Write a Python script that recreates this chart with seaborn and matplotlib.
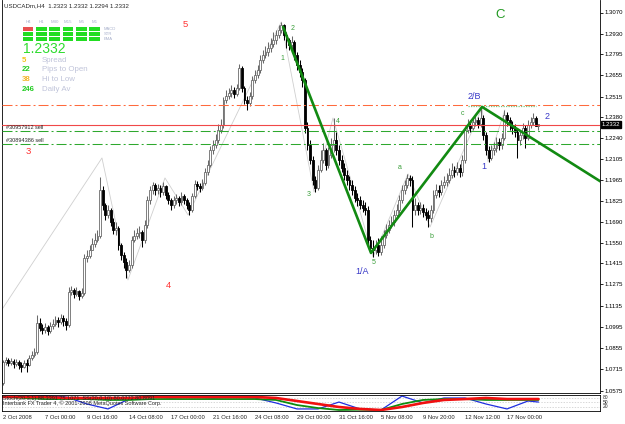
import numpy as np
import matplotlib
matplotlib.use("Agg")
import matplotlib.pyplot as plt
import seaborn as sns
from matplotlib.patches import Rectangle

# ---- price data (H4 bars, USDCADm) ----
first_open = 1.0625
closes = [
    1.0764, 1.0777, 1.0757, 1.0770, 1.0751, 1.0764, 1.0744, 1.0731, 1.0757, 1.0744,
    1.0790, 1.0810, 1.0830, 1.1021, 1.0988, 1.0975, 1.0995, 1.0968, 1.1001, 1.1015,
    1.1041, 1.1028, 1.1054, 1.1034, 1.1008, 1.1226, 1.1239, 1.1213, 1.1232, 1.1199,
    1.1219, 1.1450, 1.1463, 1.1503, 1.1543, 1.1569, 1.1595, 1.1899, 1.1800, 1.1734,
    1.1767, 1.1688, 1.1635, 1.1648, 1.1536, 1.1470, 1.1424, 1.1371, 1.1404, 1.1569,
    1.1595, 1.1615, 1.1622, 1.1569, 1.1668, 1.1833, 1.1899, 1.1932, 1.1899, 1.1912,
    1.1886, 1.1925, 1.1866, 1.1833, 1.1800, 1.1833, 1.1846, 1.1820, 1.1859, 1.1833,
    1.1800, 1.1767, 1.1859, 1.1939, 1.1925, 1.1912, 1.1945, 1.2018, 1.2064, 1.2163,
    1.2196, 1.2229, 1.2295, 1.2328, 1.2493, 1.2519, 1.2539, 1.2559, 1.2533, 1.2572,
    1.2704, 1.2572, 1.2493, 1.2473, 1.2519, 1.2625, 1.2658, 1.2691, 1.2757, 1.2790,
    1.2810, 1.2836, 1.2863, 1.2889, 1.2922, 1.2955, 1.2988, 1.2922, 1.2889, 1.2856,
    1.2876, 1.2790, 1.2724, 1.2678, 1.2625, 1.2308, 1.2196, 1.2097, 1.1965, 1.1912,
    1.2031, 1.2097, 1.2163, 1.2064, 1.2130, 1.2196, 1.2229, 1.2163, 1.2097, 1.2044,
    1.1998, 1.1965, 1.1932, 1.1899, 1.1846, 1.1833, 1.1800, 1.1780, 1.1767, 1.1569,
    1.1516, 1.1503, 1.1536, 1.1490, 1.1536, 1.1602, 1.1635, 1.1668, 1.1688, 1.1734,
    1.1767, 1.1833, 1.1899, 1.1932, 1.1978, 1.1965, 1.1767, 1.1800, 1.1767, 1.1780,
    1.1754, 1.1734, 1.1714, 1.1767, 1.1866, 1.1899, 1.1886, 1.1932, 1.1952, 1.1965,
    1.1998, 1.2031, 1.2018, 1.2044, 1.2018, 1.2097, 1.2295, 1.2328, 1.2308, 1.2348,
    1.2361, 1.2335, 1.2374, 1.2262, 1.2163, 1.2110, 1.2163, 1.2176, 1.2216, 1.2196,
    1.2242, 1.2394, 1.2361, 1.2328, 1.2308, 1.2282, 1.2229, 1.2262, 1.2308, 1.2242,
    1.2328, 1.2348, 1.2374, 1.2323, 1.2332,
]
highs = [
    1.0777, 1.0797, 1.0790, 1.0790, 1.0784, 1.0784, 1.0777, 1.0764, 1.0777, 1.0784,
    1.0810, 1.0836, 1.0856, 1.1074, 1.1054, 1.1015, 1.1021, 1.1008, 1.1028, 1.1048,
    1.1067, 1.1061, 1.1081, 1.1074, 1.1054, 1.1259, 1.1265, 1.1252, 1.1259, 1.1239,
    1.1252, 1.1477, 1.1503, 1.1536, 1.1582, 1.1615, 1.1635, 1.1985, 1.1925, 1.1813,
    1.1800, 1.1780, 1.1714, 1.1688, 1.1661, 1.1549, 1.1490, 1.1450, 1.1437, 1.1595,
    1.1635, 1.1648, 1.1661, 1.1635, 1.1701, 1.1859, 1.1925, 1.1952, 1.1945, 1.1939,
    1.1932, 1.1952, 1.1932, 1.1886, 1.1846, 1.1859, 1.1873, 1.1859, 1.1886, 1.1873,
    1.1846, 1.1820, 1.1879, 1.1965, 1.1958, 1.1945, 1.1972, 1.2044, 1.2097, 1.2189,
    1.2229, 1.2269, 1.2335, 1.2368, 1.2513, 1.2559, 1.2572, 1.2592, 1.2579, 1.2599,
    1.2731, 1.2717, 1.2586, 1.2519, 1.2546, 1.2651, 1.2691, 1.2724, 1.2790, 1.2823,
    1.2849, 1.2876, 1.2902, 1.2942, 1.2955, 1.2988, 1.3008, 1.2995, 1.2942, 1.2902,
    1.2915, 1.2889, 1.2810, 1.2757, 1.2704, 1.2638, 1.2348, 1.2229, 1.2123, 1.1991,
    1.2064, 1.2163, 1.2209, 1.2176, 1.2183, 1.2242, 1.2374, 1.2282, 1.2196, 1.2130,
    1.2077, 1.2031, 1.1991, 1.1965, 1.1925, 1.1879, 1.1859, 1.1833, 1.1820, 1.1793,
    1.1595, 1.1569, 1.1569, 1.1582, 1.1595, 1.1635, 1.1675, 1.1701, 1.1727, 1.1767,
    1.1807, 1.1866, 1.1932, 1.1965, 1.2005, 1.1998, 1.1991, 1.1846, 1.1820, 1.1820,
    1.1807, 1.1780, 1.1767, 1.1800, 1.1899, 1.1939, 1.1932, 1.1965, 1.1991, 1.2011,
    1.2044, 1.2077, 1.2057, 1.2084, 1.2071, 1.2130, 1.2321, 1.2368, 1.2361, 1.2381,
    1.2401, 1.2381, 1.2440, 1.2394, 1.2282, 1.2189, 1.2196, 1.2216, 1.2249, 1.2242,
    1.2275, 1.2427, 1.2414, 1.2381, 1.2355, 1.2335, 1.2308, 1.2295, 1.2341, 1.2328,
    1.2361, 1.2381, 1.2407, 1.2388, 1.2332,
]
lows = [
    1.0612, 1.0744, 1.0737, 1.0744, 1.0724, 1.0737, 1.0718, 1.0698, 1.0724, 1.0698,
    1.0737, 1.0777, 1.0797, 1.0817, 1.0968, 1.0949, 1.0955, 1.0942, 1.0955, 1.0982,
    1.1001, 1.0995, 1.1015, 1.1001, 1.0975, 1.0995, 1.1206, 1.1186, 1.1199, 1.1173,
    1.1186, 1.1206, 1.1424, 1.1450, 1.1503, 1.1523, 1.1556, 1.1582, 1.1767, 1.1701,
    1.1714, 1.1661, 1.1609, 1.1602, 1.1503, 1.1437, 1.1384, 1.1318, 1.1358, 1.1384,
    1.1556, 1.1576, 1.1582, 1.1523, 1.1549, 1.1648, 1.1807, 1.1873, 1.1866, 1.1873,
    1.1853, 1.1866, 1.1840, 1.1807, 1.1767, 1.1780, 1.1807, 1.1793, 1.1800, 1.1807,
    1.1774, 1.1734, 1.1754, 1.1846, 1.1899, 1.1886, 1.1899, 1.1932, 1.1998, 1.2051,
    1.2137, 1.2176, 1.2209, 1.2275, 1.2308, 1.2473, 1.2500, 1.2513, 1.2506, 1.2519,
    1.2559, 1.2546, 1.2467, 1.2427, 1.2453, 1.2500, 1.2605, 1.2638, 1.2671, 1.2737,
    1.2770, 1.2783, 1.2810, 1.2843, 1.2863, 1.2902, 1.2935, 1.2889, 1.2836, 1.2823,
    1.2823, 1.2757, 1.2691, 1.2645, 1.2579, 1.2275, 1.2163, 1.2071, 1.1932, 1.1886,
    1.1899, 1.2018, 1.2077, 1.2031, 1.2044, 1.2110, 1.2150, 1.2130, 1.2064, 1.2018,
    1.1965, 1.1932, 1.1899, 1.1866, 1.1820, 1.1793, 1.1774, 1.1754, 1.1734, 1.1543,
    1.1490, 1.1457, 1.1477, 1.1463, 1.1470, 1.1516, 1.1582, 1.1615, 1.1648, 1.1661,
    1.1714, 1.1747, 1.1813, 1.1873, 1.1912, 1.1925, 1.1655, 1.1734, 1.1734, 1.1741,
    1.1721, 1.1701, 1.1655, 1.1688, 1.1747, 1.1846, 1.1853, 1.1866, 1.1912, 1.1925,
    1.1945, 1.1978, 1.1985, 1.1998, 1.1985, 1.1991, 1.2077, 1.2275, 1.2282, 1.2295,
    1.2321, 1.2308, 1.2315, 1.2229, 1.2130, 1.2084, 1.2097, 1.2130, 1.2150, 1.2163,
    1.2170, 1.2229, 1.2321, 1.2295, 1.2269, 1.2249, 1.2110, 1.2196, 1.2236, 1.2176,
    1.2229, 1.2308, 1.2328, 1.2321, 1.2294,
]

price_ticks = [1.3070, 1.2930, 1.2795, 1.2655, 1.2515, 1.2380, 1.2240, 1.2105, 1.1965, 1.1825,
               1.1690, 1.1550, 1.1415, 1.1275, 1.1135, 1.0995, 1.0855, 1.0715, 1.0575]
date_bars = [0, 16, 32, 48, 64, 80, 96, 112, 128, 144, 160, 176, 192]
date_labels = ["2 Oct 2008", "7 Oct 00:00", "9 Oct 16:00", "14 Oct 08:00", "17 Oct 00:00",
               "21 Oct 16:00", "24 Oct 08:00", "29 Oct 00:00", "31 Oct 16:00", "5 Nov 08:00",
               "9 Nov 20:00", "12 Nov 12:00", "17 Nov 00:00"]

# order / level lines
level_orange = 1.2460
level_red = 1.2330
level_green1 = 1.2288
level_green2 = 1.2203

# elliott wave trend line and zigzag
wave_bars = [106.7, 140.2, 182.5, 231]
wave_prices = [1.2975, 1.1483, 1.2447, 1.1918]
zz_bars = [-1, 37.7, 47.6, 61.7, 70.5, 106, 118.5, 125.7, 141, 154.3, 162.7, 182.5, 184.8, 191.2]
zz_prices = [1.1094, 1.2110, 1.1305, 1.1978, 1.1734, 1.3008, 1.1886, 1.2374, 1.1457,
             1.2005, 1.1655, 1.2440, 1.2084, 1.2427]
dot_bars = [177, 203]
dot_prices = [1.2453, 1.2453]

green_labels = ["2", "1", "3", "4", "a", "b", "c", "5"]
green_lab_bars = [110.5, 106.3, 116.6, 127.6, 151.2, 163.4, 175.2, 141.3]
green_lab_prices = [1.2962, 1.2764, 1.1866, 1.2348, 1.2044, 1.1589, 1.2401, 1.1417]
blue_labels = ["1/A", "2/B", "1", "2"]
blue_lab_bars = [136.8, 179.4, 183.2, 207.2]
blue_lab_prices = [1.1358, 1.2513, 1.2051, 1.2381]
red_labels = ["5", "3", "4"]
red_lab_bars = [69.3, 9.5, 63.2]
red_lab_prices = [1.2988, 1.2150, 1.1265]

# stochastic sub-window
stoch_bars = [0, 8, 16, 24, 32, 40, 48, 56, 64, 72, 80, 88, 96, 104, 112, 120, 128, 136,
              144, 152, 160, 168, 176, 184, 192, 200, 204]
stoch_blue = [87, 87, 93, 87, 40, 7, 73, 87, 80, 87, 80, 87, 80, 47, 7, 7, 53, 7,
              0, 93, 47, 80, 80, 40, 7, 60, 53]
stoch_green = [87, 80, 73, 73, 73, 67, 67, 73, 73, 73, 73, 73, 73, 67, 33, 13, 0, 2,
               0, 40, 67, 73, 73, 67, 67, 67, 67]
stoch_red = [87, 87, 87, 80, 80, 80, 80, 87, 87, 87, 87, 87, 87, 80, 60, 40, 20, 7,
             0, 20, 47, 67, 73, 80, 73, 73, 73]
stoch_levels = [80, 50, 20]

# dashboard
tf_names = ["H4", "H1", "M30", "M15", "M5", "M1"]
sig_rows = ["MACD", "STR", "EMA"]
info_values = ["5", "22", "38", "246"]
info_names = ["Spread", "Pips to Open", "Hi to Low", "Daily Av"]
info_colors = ["#F2C21B", "#22CC22", "#F2B428", "#22CC22"]

sns.set_style("white")
plt.rcParams['font.family'] = ['Liberation Sans', 'DejaVu Sans']

W, H = 625, 424
def fx(x):
    return x / W
def fy(y):
    return 1 - y / H

fig = plt.figure(figsize=(6.25, 4.24), dpi=100)
fig.patch.set_facecolor("white")
ax = fig.add_axes([fx(2), fy(393), 598 / W, 393 / H])
ax2 = fig.add_axes([fx(2), fy(411), 598 / W, 16 / H])

# candles
bars = np.arange(len(closes))
c = np.array(closes)
hi = np.array(highs)
lo = np.array(lows)
o = np.array([first_open] + closes[:-1])
up = c >= o
ax.vlines(bars[up], lo[up], hi[up], color="#6a6a6a", lw=0.75, zorder=2)
ax.vlines(bars[~up], lo[~up], hi[~up], color="black", lw=0.75, zorder=2)
ax.bar(bars[up], (c - o)[up], bottom=o[up], width=0.72, color="white",
       edgecolor="#6a6a6a", linewidth=0.6, zorder=2.5)
ax.bar(bars[~up], (o - c)[~up], bottom=c[~up], width=0.72, color="black",
       edgecolor="black", linewidth=0.6, zorder=2.5)

# zigzag + level lines
sns.lineplot(x=zz_bars, y=zz_prices, ax=ax, color="#cfcfcf", linewidth=0.6,
             sort=False, estimator=None, zorder=1.5)
dashdot = (0, (9.6, 2.9, 1.9, 2.9))
ax.axhline(level_orange, color="#FF6A3D", lw=0.75, ls=dashdot, zorder=3)
ax.axhline(level_red, color="#F04848", lw=0.8, zorder=3)
ax.axhline(level_green1, color="#2EA82E", lw=0.75, ls=dashdot, zorder=3)
ax.axhline(level_green2, color="#2EA82E", lw=0.75, ls=dashdot, zorder=3)
sns.lineplot(x=dot_bars, y=dot_prices, ax=ax, color="#7CC47C", linewidth=0.9,
             linestyle=(0, (1, 1)), sort=False, estimator=None, zorder=3)
sns.lineplot(x=wave_bars, y=wave_prices, ax=ax, color="#128A12", linewidth=1.9,
             sort=False, estimator=None, zorder=4)

ax.text(1.2, level_green1 + 0.0007, "#30957912 sell", fontsize=4, va="bottom", ha="left", zorder=5)
ax.text(1.2, level_green2 + 0.0007, "#30894386 sell", fontsize=4, va="bottom", ha="left", zorder=5)

for s, b, p in zip(green_labels, green_lab_bars, green_lab_prices):
    ax.text(b, p, s, color="#3A9E3A", fontsize=5, ha="center", va="center", zorder=5)
for s, b, p in zip(blue_labels, blue_lab_bars, blue_lab_prices):
    ax.text(b, p, s, color="#3A3AC8", fontsize=6.5, ha="center", va="center", zorder=5)
for s, b, p in zip(red_labels, red_lab_bars, red_lab_prices):
    ax.text(b, p, s, color="#FF3333", fontsize=6.8, ha="center", va="center", zorder=5)
ax.text(189.3, 1.3054, "C", color="#229922", fontsize=9.5, ha="center", va="center", zorder=5)

ax.set_xlim(-0.381, 227.43)
ax.set_ylim(1.05587, 1.31525)
ax.set_xticks([])
ax.yaxis.tick_right()
ax.set_yticks(price_ticks)
ax.set_yticklabels([f"{t:.4f}" for t in price_ticks])
ax.tick_params(axis="y", length=2, width=0.6, pad=1.5, labelsize=4.3, direction="out", colors="black")
for side in ["left", "right", "bottom"]:
    ax.spines[side].set_color("black")
    ax.spines[side].set_linewidth(0.6)
ax.spines["top"].set_visible(False)
ax.text(1.003, closes[-1], f"{closes[-1]:.4f}", transform=ax.get_yaxis_transform(),
        ha="left", va="center", fontsize=4.3, color="white", clip_on=False, zorder=6,
        bbox=dict(boxstyle="square,pad=0.2", fc="black", ec="black"))

# stochastic panel
for lv in stoch_levels:
    ax2.axhline(lv, color="#c8c8c8", lw=0.5, ls=(0, (2, 2)))
sns.lineplot(x=stoch_bars, y=stoch_blue, ax=ax2, color="#1F2FE0", linewidth=0.9,
             sort=False, estimator=None)
sns.lineplot(x=stoch_bars, y=stoch_green, ax=ax2, color="#0E8C0E", linewidth=1.3,
             sort=False, estimator=None)
sns.lineplot(x=stoch_bars, y=stoch_red, ax=ax2, color="#F01010", linewidth=1.9,
             sort=False, estimator=None)
ax2.set_xlim(-0.381, 227.43)
ax2.set_ylim(-6.7, 100)
ax2.set_yticks([])
ax2.set_xticks(date_bars)
ax2.set_xticklabels(date_labels, ha="left")
ax2.tick_params(axis="x", length=2, width=0.6, pad=1, labelsize=4.2, direction="out")
for side in ax2.spines:
    ax2.spines[side].set_color("black")
    ax2.spines[side].set_linewidth(0.6)
for lv in stoch_levels:
    ax2.text(1.004, lv, str(lv), transform=ax2.get_yaxis_transform(), fontsize=3.6,
             va="center", ha="left", clip_on=False)
ax2.text(0.002, 0.76, "Stoch(20,3,1) 88.3391 75.1071  SS(20,0,10) 80.0772 80.8091",
         transform=ax2.transAxes, fontsize=4, va="center", ha="left")
ax2.text(0.002, 0.47, "Interbank FX Trader 4, \u00a9 2001-2008 MetaQuotes Software Corp.",
         transform=ax2.transAxes, fontsize=4, va="center", ha="left")

# header and dashboard
fig.text(fx(4), fy(6), "USDCADm,H4  1.2323 1.2332 1.2294 1.2332", fontsize=4.4, va="center")
col_x = [22.7, 36.0, 49.3, 62.7, 76.0, 89.3]
row_y = [26.7, 31.7, 36.7]
for j, name in enumerate(tf_names):
    fig.text(fx(col_x[j] + 5.3), fy(22), name, fontsize=3.2, color="#A8B0CC", ha="center", va="center")
    for k in range(3):
        col = "#E85050" if (j == 0 and k == 0) else "#22DD22"
        fig.patches.append(Rectangle((fx(col_x[j]), fy(row_y[k] + 4)), 10.7 / W, 4 / H,
                                     transform=fig.transFigure, facecolor=col, edgecolor="none"))
for k, name in enumerate(sig_rows):
    fig.text(fx(104), fy(row_y[k] + 2), name, fontsize=3, color="#A8B0CC", ha="left", va="center")
fig.text(fx(22.5), fy(49), f"{closes[-1]:.4f}", fontsize=10, color="#2EDC2E", ha="left", va="center")
for k in range(4):
    yy = 60 + k * 9.7
    fig.text(fx(22), fy(yy), info_values[k], fontsize=5.6, color=info_colors[k],
             fontweight="bold", ha="left", va="center")
    fig.text(fx(42), fy(yy), info_names[k], fontsize=5.7, color="#C0C4DA", ha="left", va="center")

fig.savefig("out.png", dpi=100, facecolor="white")
